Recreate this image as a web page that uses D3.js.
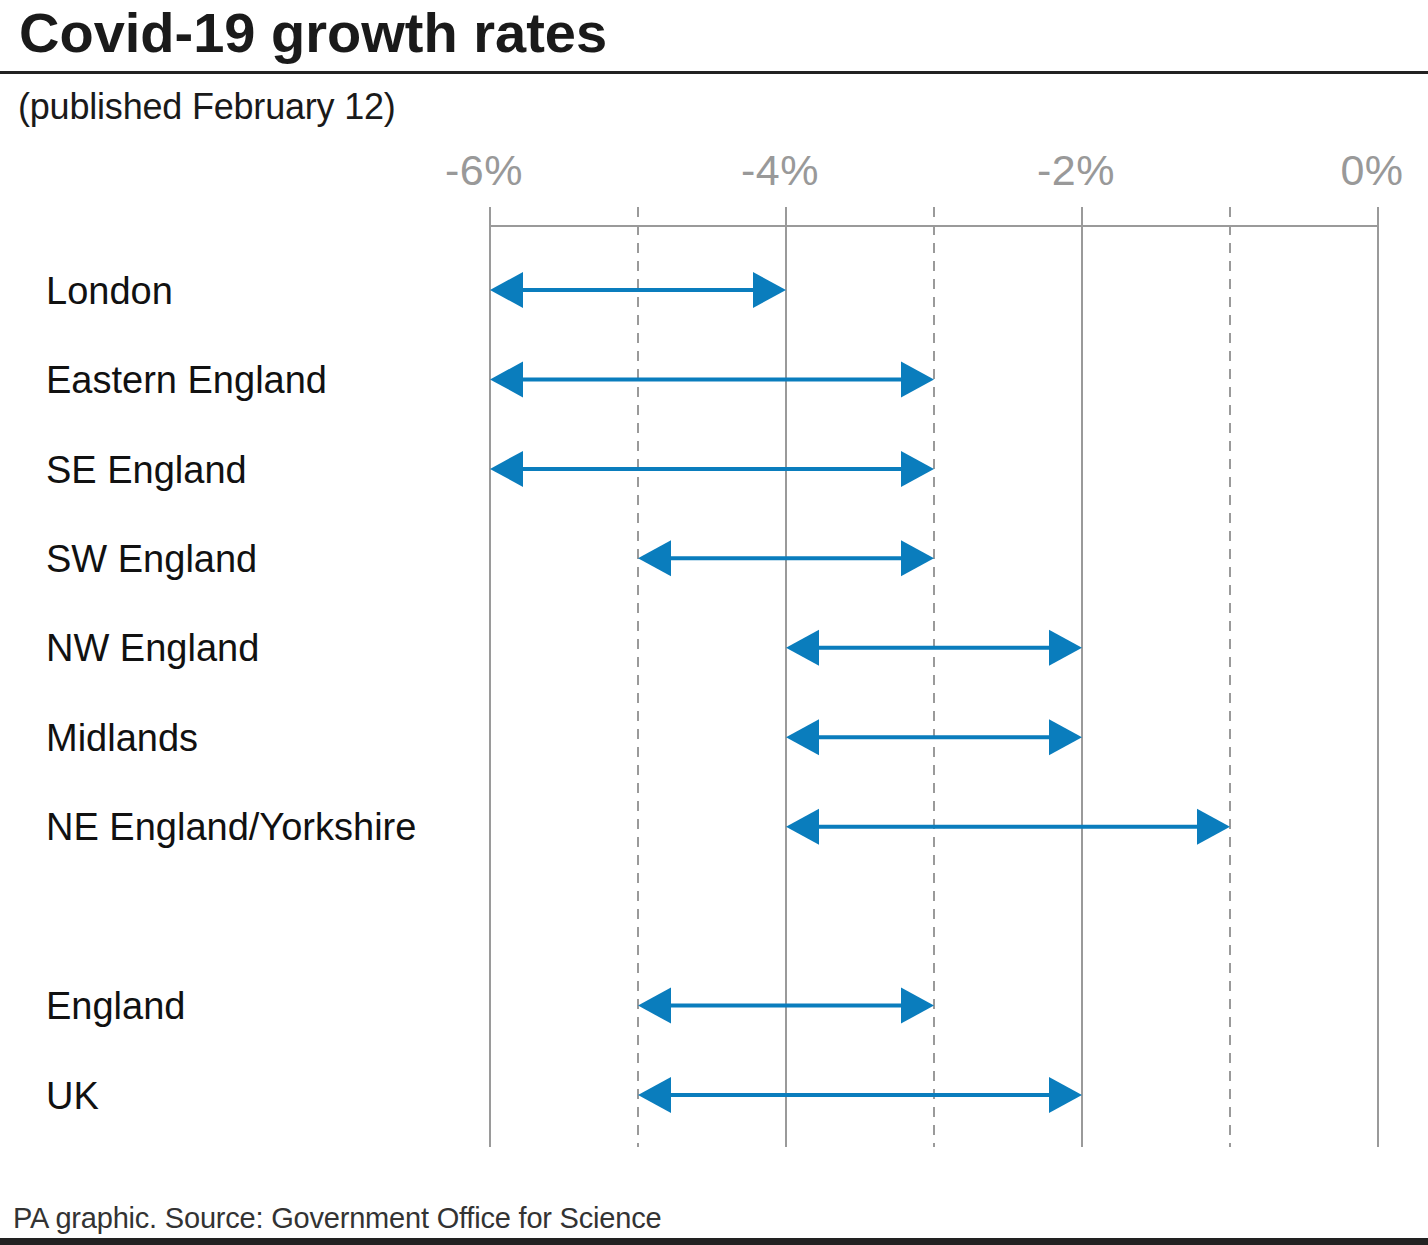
<!DOCTYPE html>
<html><head><meta charset="utf-8">
<script src="https://cdn.jsdelivr.net/npm/d3@7/dist/d3.min.js"></script>
<style>
html,body{margin:0;padding:0;background:#fff;}
svg{display:block;font-family:"Liberation Sans",Arial,sans-serif;}
</style></head>
<body>
<svg id="chart" width="1428" height="1245"></svg>
<script>
const regions = ["London","Eastern England","SE England","SW England","NW England","Midlands","NE England/Yorkshire","","England","UK"];
const lowValues  = [-6,-6,-6,-5,-4,-4,-4,null,-5,-5];
const highValues = [-4,-3,-3,-3,-2,-2,-1,null,-3,-2];
const solidTicks = [-6,-4,-2,0];
const dashedTicks = [-5,-3,-1];
const tickLabels = ["-6%","-4%","-2%","0%"];

const svg = d3.select("#chart");
const W = 1428, H = 1245;
const blue = "#0a7dbd", grid = "#9a9a9a";

const x = d3.scaleLinear().domain([-6,0]).range([490,1378]);
const y = d3.scalePoint().domain(d3.range(regions.length)).range([290,1095]);

// title
svg.append("text").attr("x",19).attr("y",52).attr("font-size",56).attr("font-weight","bold")
  .attr("letter-spacing","0").attr("fill","#1a1a1a").text("Covid-19 growth rates");
svg.append("rect").attr("x",0).attr("y",71).attr("width",W).attr("height",3).attr("fill","#222");
svg.append("text").attr("x",18).attr("y",119).attr("font-size",36)
  .attr("letter-spacing","-0.2").attr("fill","#1a1a1a").text("(published February 12)");

// gridlines
const gTop = 207, gBot = 1147;
svg.append("g").selectAll("line").data(solidTicks).join("line")
  .attr("x1",d=>x(d)).attr("x2",d=>x(d)).attr("y1",gTop).attr("y2",gBot)
  .attr("stroke",grid).attr("stroke-width",2);
svg.append("g").selectAll("line").data(dashedTicks).join("line")
  .attr("x1",d=>x(d)).attr("x2",d=>x(d)).attr("y1",gTop).attr("y2",gBot)
  .attr("stroke",grid).attr("stroke-width",2).attr("stroke-dasharray","10,8");
svg.append("line").attr("x1",x(-6)).attr("x2",x(0)).attr("y1",226).attr("y2",226)
  .attr("stroke",grid).attr("stroke-width",2);

// tick labels
svg.append("g").selectAll("text").data(solidTicks).join("text")
  .attr("x",d=>x(d)-6).attr("y",185).attr("text-anchor","middle")
  .attr("font-size",43).attr("letter-spacing","0.5").attr("fill","#999")
  .text((d,i)=>tickLabels[i]);

// row labels
svg.append("g").selectAll("text").data(regions).join("text")
  .attr("x",46).attr("y",(d,i)=>y(i)).attr("dy","0.36em")
  .attr("font-size",38).attr("letter-spacing","0").attr("fill","#111")
  .text(d=>d);

// arrows
const headL = 33, headH = 18;
const rows = regions.map((r,i)=>({i, lo:lowValues[i], hi:highValues[i]})).filter(d=>d.lo!==null);
const ga = svg.append("g");
ga.selectAll("line").data(rows).join("line")
  .attr("x1",d=>x(d.lo)+headL-2).attr("x2",d=>x(d.hi)-headL+2)
  .attr("y1",d=>y(d.i)).attr("y2",d=>y(d.i))
  .attr("stroke",blue).attr("stroke-width",4);
ga.selectAll("path.l").data(rows).join("path").attr("class","l")
  .attr("d",d=>{const a=x(d.lo), c=y(d.i); return `M${a},${c}L${a+headL},${c-headH}L${a+headL},${c+headH}Z`;})
  .attr("fill",blue);
ga.selectAll("path.r").data(rows).join("path").attr("class","r")
  .attr("d",d=>{const a=x(d.hi), c=y(d.i); return `M${a},${c}L${a-headL},${c-headH}L${a-headL},${c+headH}Z`;})
  .attr("fill",blue);

// footer
svg.append("text").attr("x",13).attr("y",1228).attr("font-size",29)
  .attr("letter-spacing","-0.2").attr("fill","#333").text("PA graphic. Source: Government Office for Science");
svg.append("rect").attr("x",0).attr("y",1238).attr("width",W).attr("height",7).attr("fill","#222");
</script>
</body></html>
